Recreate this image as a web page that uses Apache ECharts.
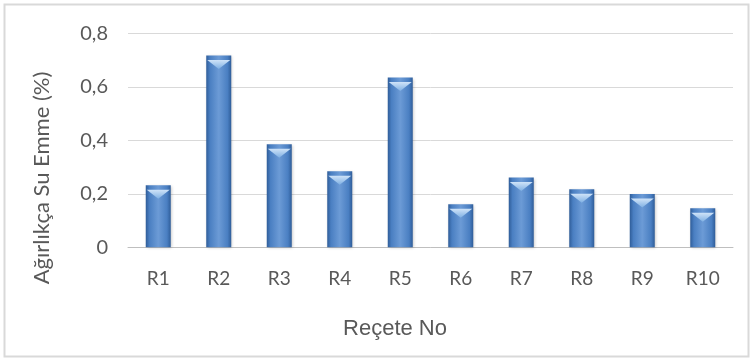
<!DOCTYPE html>
<html>
<head>
<meta charset="utf-8">
<script src="https://cdn.jsdelivr.net/npm/echarts@6/dist/echarts.min.js"></script>
<style>
  html, body { margin: 0; padding: 0; background: #fff; }
  #chart { width: 753px; height: 361px; }
</style>
</head>
<body>
<div id="chart"></div>
<script>
// Reçete bazında ağırlıkça su emme
var categories = ['R1', 'R2', 'R3', 'R4', 'R5', 'R6', 'R7', 'R8', 'R9', 'R10'];
var waterAbsorption = [0.232, 0.718, 0.386, 0.285, 0.635, 0.161, 0.261, 0.217, 0.199, 0.146];
var yTicks = [0, 0.2, 0.4, 0.6, 0.8];

var fontFamily = 'Lato, "Open Sans", sans-serif';
var textGray = '#595959';

var chart = echarts.init(document.getElementById('chart'));
var option = {
  backgroundColor: '#fff',
  animation: false,
  grid: { left: 128, right: 20, top: 33.5, bottom: 113.7 },
  graphic: [
    {
      type: 'rect',
      shape: { x: 4.5, y: 4.5, width: 744, height: 352 },
      style: { fill: 'none', stroke: '#d9d9d9', lineWidth: 2 }
    },
    {
      type: 'text',
      x: 42, y: 178,
      rotation: Math.PI / 2,
      style: {
        text: 'Ağırlıkça Su Emme (%)',
        fill: textGray,
        font: '22px ' + fontFamily,
        align: 'center',
        verticalAlign: 'middle'
      }
    },
    {
      type: 'text',
      x: 395, y: 329,
      style: {
        text: 'Reçete No',
        fill: textGray,
        font: '22px "Liberation Sans", Arial, sans-serif',
        align: 'center',
        verticalAlign: 'middle'
      }
    }
  ],
  xAxis: {
    type: 'category',
    data: categories,
    axisLine: { lineStyle: { color: '#bfbfbf', width: 1 } },
    axisTick: { show: false },
    axisLabel: { color: textGray, fontSize: 19, fontFamily: fontFamily, margin: 22 }
  },
  yAxis: {
    type: 'value',
    min: yTicks[0],
    max: yTicks[yTicks.length - 1],
    interval: 0.2,
    axisLine: { show: false },
    axisTick: { show: false },
    axisLabel: {
      color: textGray,
      fontSize: 20,
      fontFamily: fontFamily,
      margin: 20,
      formatter: function (v) { return String(+v.toFixed(1)).replace('.', ','); }
    },
    splitLine: { lineStyle: { color: '#d9d9d9', width: 1 } }
  },
  series: [
    {
      type: 'bar',
      data: waterAbsorption,
      barWidth: 25,
      itemStyle: {
        color: {
          type: 'linear', x: 0, y: 0, x2: 1, y2: 0,
          colorStops: [
            { offset: 0, color: '#2f5d99' },
            { offset: 0.15, color: '#4a7fc2' },
            { offset: 0.5, color: '#6c9bd6' },
            { offset: 0.85, color: '#4a7fc2' },
            { offset: 1, color: '#2f5d99' }
          ]
        },
        shadowColor: 'rgba(0,0,0,0.25)',
        shadowBlur: 3,
        shadowOffsetX: 1,
        shadowOffsetY: 1
      }
    },
    {
      type: 'pictorialBar',
      data: waterAbsorption,
      barGap: '-100%',
      symbol: 'path://M0,0 L10,0 L5,4 Z',
      symbolSize: [23, 9],
      symbolPosition: 'end',
      symbolOffset: [0, '50%'],
      z: 3,
      itemStyle: {
        color: {
          type: 'linear', x: 0, y: 0, x2: 0, y2: 1,
          colorStops: [
            { offset: 0, color: '#cfe3f8' },
            { offset: 1, color: '#7fb0e3' }
          ]
        }
      }
    }
  ]
};
chart.setOption(option);
window.addEventListener('resize', function () { chart.resize(); });
</script>
</body>
</html>
